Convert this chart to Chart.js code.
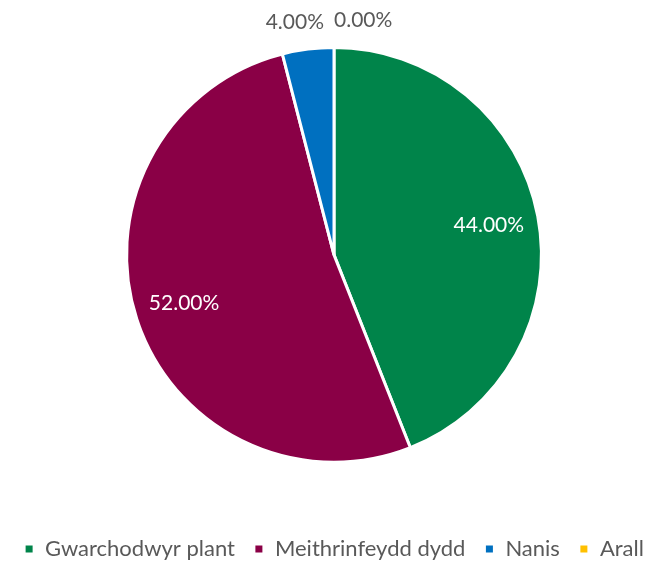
<!DOCTYPE html>
<html>
<head>
<meta charset="utf-8">
<script src="https://cdn.jsdelivr.net/npm/chart.js@4/dist/chart.umd.min.js"></script>
<style>
  html, body { margin: 0; padding: 0; background: #fff; }
  #wrap { width: 668px; height: 562px; }
</style>
</head>
<body>
<div id="wrap"><canvas id="chart"></canvas></div>
<script>
const categories = ['Gwarchodwyr plant', 'Meithrinfeydd dydd', 'Nanis', 'Arall']
const shares = [44, 52, 4, 0]
const colors = ['#00844a', '#8a0046', '#0070c0', '#ffc000']

const FONT = 'Lato, "Open Sans", sans-serif'

// draws the percentage labels, inside big slices and outside small ones
const sliceLabels = {
  id: 'sliceLabels',
  afterDatasetsDraw(chart) {
    const ctx = chart.ctx
    const meta = chart.getDatasetMeta(0)
    ctx.save()
    ctx.font = '21px ' + FONT
    ctx.textBaseline = 'middle'
    meta.data.forEach((arc, i) => {
      const v = shares[i]
      const { x, y, startAngle, endAngle, outerRadius } = arc.getProps(['x', 'y', 'startAngle', 'endAngle', 'outerRadius'], true)
      const mid = (startAngle + endAngle) / 2
      const txt = v.toFixed(2) + '%'
      if (v >= 10) {
        const d = outerRadius * 0.76
        ctx.fillStyle = '#ffffff'
        ctx.textAlign = 'center'
        ctx.fillText(txt, x + Math.cos(mid) * d, y + Math.sin(mid) * d)
      } else {
        const d = outerRadius + 27
        let lx = x + Math.cos(mid) * d
        const ly = y + Math.sin(mid) * d
        ctx.fillStyle = '#595959'
        if (Math.cos(mid) >= -0.01) {
          ctx.textAlign = 'left'
          lx = Math.max(lx, x - 1)
        } else {
          ctx.textAlign = 'right'
          lx = Math.max(lx, x - 10)
        }
        ctx.fillText(txt, lx, ly)
      }
    })
    ctx.restore()
  },
}

new Chart(document.getElementById('chart'), {
  type: 'pie',
  data: {
    labels: categories,
    datasets: [
      {
        data: shares,
        backgroundColor: colors,
        borderColor: '#ffffff',
        borderWidth: 3,
      },
    ],
  },
  options: {
    responsive: true,
    maintainAspectRatio: false,
    animation: false,
    layout: { padding: { top: 46, bottom: -8 } },
    plugins: {
      legend: {
        display: true,
        position: 'bottom',
        // empty title only used as a spacer between pie and legend
        title: { display: true, text: '', font: { size: 1 }, padding: { top: 54, bottom: 0 } },
        labels: {
          boxWidth: 10,
          boxHeight: 10,
          padding: 19,
          color: '#595959',
          font: { family: FONT, size: 22 },
        },
      },
      tooltip: { enabled: false },
    },
  },
  plugins: [sliceLabels],
})
</script>
</body>
</html>
